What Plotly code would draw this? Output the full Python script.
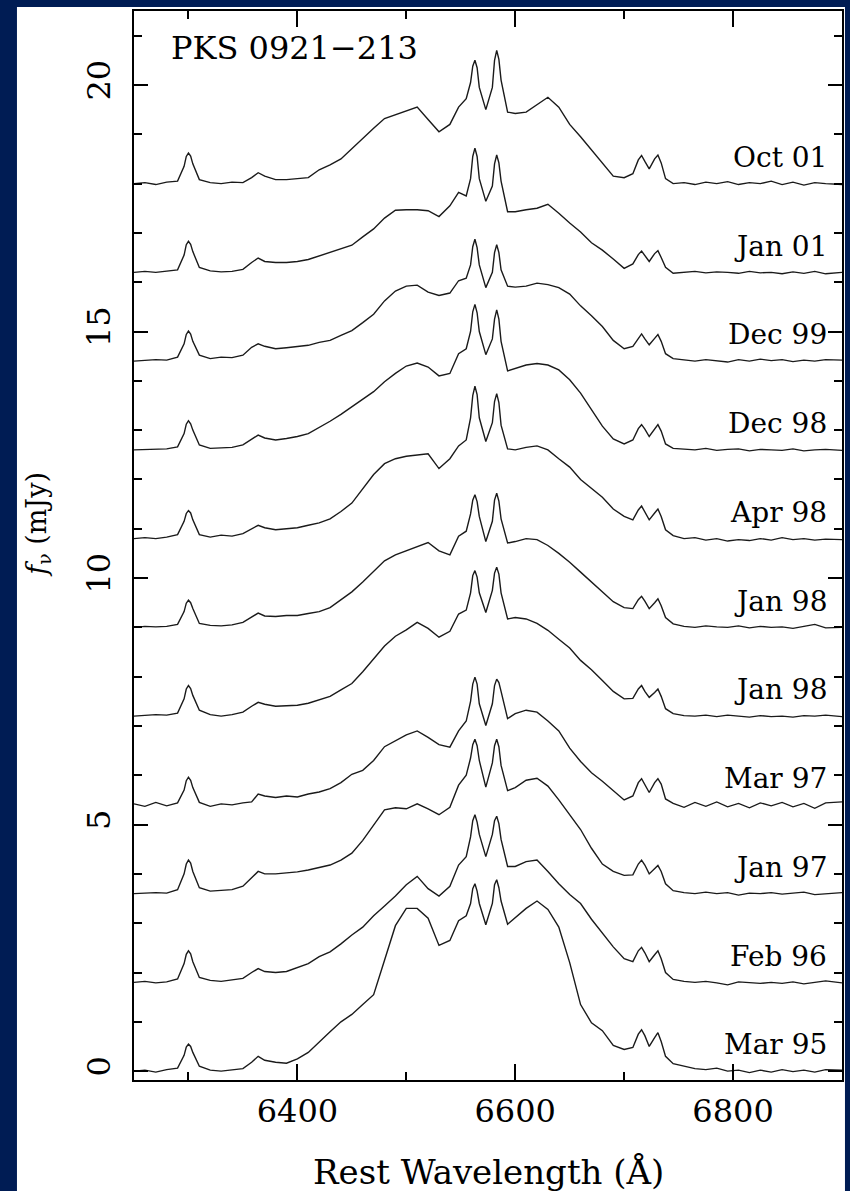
import plotly.graph_objects as go

wavelength = [
    6250, 6260, 6270, 6280, 6290, 6296, 6298, 6300, 6302, 6304,
    6310, 6320, 6330, 6340, 6350, 6358, 6364, 6370, 6380, 6390,
    6400, 6410, 6420, 6430, 6440, 6450, 6460, 6470, 6480, 6490,
    6500, 6510, 6520, 6530, 6540, 6548, 6555, 6559, 6561, 6563,
    6565, 6567, 6573, 6579, 6581, 6583, 6585, 6587, 6593, 6600,
    6610, 6620, 6630, 6640, 6650, 6660, 6670, 6680, 6690, 6700,
    6708, 6713, 6716, 6719, 6723, 6728, 6731, 6734, 6738, 6745,
    6755, 6765, 6775, 6785, 6795, 6805, 6815, 6825, 6835, 6845,
    6855, 6865, 6875, 6885, 6900,
]

epochs = ["Oct 01", "Jan 01", "Dec 99", "Dec 98", "Apr 98", "Jan 98",
          "Jan 98", "Mar 97", "Jan 97", "Feb 96", "Mar 95"]
offsets = [18.0, 16.2, 14.4, 12.6, 10.8, 9.0, 7.2, 5.4, 3.6, 1.8, 0.0]

oct01 = [
    0.00, 0.02, -0.02, 0.03, 0.05, 0.35, 0.55, 0.62, 0.56, 0.40,
    0.08, 0.02, 0.00, 0.03, 0.02, 0.12, 0.22, 0.15, 0.08, 0.08,
    0.10, 0.12, 0.28, 0.38, 0.50, 0.70, 0.90, 1.12, 1.32, 1.40,
    1.48, 1.55, 1.30, 1.05, 1.20, 1.55, 1.72, 2.05, 2.38, 2.50,
    2.35, 1.95, 1.50, 1.95, 2.50, 2.70, 2.52, 2.10, 1.45, 1.42,
    1.45, 1.60, 1.75, 1.55, 1.20, 0.95, 0.68, 0.40, 0.15, 0.12,
    0.20, 0.48, 0.57, 0.45, 0.30, 0.50, 0.58, 0.42, 0.10, 0.00,
    0.02, -0.02, 0.03, 0.00, 0.04, -0.02, 0.02, 0.00, 0.05, -0.02,
    0.03, -0.03, 0.02, 0.00, -0.02,
]
jan01 = [
    0.00, 0.02, 0.00, 0.02, 0.05, 0.35, 0.56, 0.63, 0.57, 0.42,
    0.10, 0.03, 0.01, 0.02, 0.06, 0.20, 0.29, 0.22, 0.20, 0.20,
    0.22, 0.26, 0.33, 0.40, 0.47, 0.55, 0.72, 0.88, 1.10, 1.26,
    1.27, 1.27, 1.25, 1.13, 1.35, 1.62, 1.55, 1.90, 2.35, 2.52,
    2.35, 1.90, 1.44, 1.75, 2.20, 2.38, 2.22, 1.85, 1.23, 1.23,
    1.27, 1.30, 1.38, 1.20, 1.00, 0.82, 0.60, 0.45, 0.27, 0.08,
    0.17, 0.36, 0.43, 0.33, 0.22, 0.38, 0.44, 0.30, 0.10, -0.02,
    0.00, 0.02, -0.01, 0.01, 0.00, -0.02, 0.02, -0.01, 0.00, -0.03,
    0.01, -0.02, 0.02, -0.03, 0.00,
]
dec99 = [
    0.00, 0.02, 0.03, 0.02, 0.08, 0.35, 0.54, 0.61, 0.55, 0.40,
    0.12, 0.05, 0.08, 0.07, 0.12, 0.28, 0.35, 0.30, 0.25, 0.27,
    0.29, 0.32, 0.38, 0.42, 0.52, 0.62, 0.78, 0.95, 1.22, 1.42,
    1.52, 1.54, 1.40, 1.33, 1.38, 1.63, 1.68, 1.95, 2.32, 2.47,
    2.30, 1.95, 1.49, 1.80, 2.20, 2.36, 2.20, 1.85, 1.52, 1.50,
    1.52, 1.58, 1.55, 1.49, 1.36, 1.12, 0.92, 0.70, 0.42, 0.25,
    0.30, 0.47, 0.55, 0.45, 0.33, 0.46, 0.54, 0.40, 0.15, 0.05,
    0.02, 0.00, 0.03, 0.01, -0.02, 0.03, 0.00, 0.04, 0.01, 0.03,
    -0.01, 0.02, 0.00, 0.03, 0.02,
]
dec98 = [
    0.00, 0.01, 0.02, 0.02, 0.06, 0.33, 0.52, 0.59, 0.53, 0.40,
    0.10, 0.03, 0.04, 0.05, 0.10, 0.22, 0.30, 0.24, 0.20, 0.23,
    0.27, 0.33, 0.45, 0.58, 0.72, 0.87, 1.02, 1.18, 1.38, 1.55,
    1.70, 1.76, 1.68, 1.50, 1.55, 1.95, 2.05, 2.40, 2.80, 2.95,
    2.78, 2.40, 1.93, 2.25, 2.65, 2.84, 2.65, 2.20, 1.60, 1.65,
    1.72, 1.75, 1.72, 1.62, 1.42, 1.15, 0.82, 0.48, 0.22, 0.12,
    0.20, 0.43, 0.51, 0.42, 0.27, 0.43, 0.51, 0.38, 0.12, 0.03,
    0.02, 0.00, 0.03, -0.01, 0.01, 0.02, -0.02, 0.01, 0.00, -0.01,
    0.02, -0.02, 0.00, 0.01, -0.01,
]
apr98 = [
    0.00, 0.02, 0.00, 0.03, 0.08, 0.35, 0.51, 0.57, 0.52, 0.38,
    0.08, 0.03, 0.07, 0.05, 0.10, 0.20, 0.27, 0.22, 0.18, 0.20,
    0.22, 0.27, 0.32, 0.40, 0.55, 0.72, 1.02, 1.30, 1.52, 1.62,
    1.67, 1.70, 1.72, 1.42, 1.62, 1.88, 2.00, 2.45, 2.90, 3.09,
    2.92, 2.45, 1.97, 2.35, 2.78, 2.94, 2.76, 2.30, 1.82, 1.80,
    1.85, 1.88, 1.80, 1.62, 1.45, 1.20, 1.02, 0.84, 0.60, 0.45,
    0.38, 0.58, 0.66, 0.55, 0.38, 0.52, 0.60, 0.45, 0.18, 0.06,
    0.00, 0.02, -0.03, 0.00, -0.05, -0.02, -0.04, 0.00, -0.03, 0.02,
    -0.02, 0.00, -0.03, -0.01, -0.02,
]
jan98a = [
    0.00, 0.02, 0.01, 0.02, 0.06, 0.32, 0.49, 0.55, 0.50, 0.38,
    0.08, 0.04, 0.03, 0.05, 0.10, 0.20, 0.29, 0.23, 0.22, 0.24,
    0.24, 0.28, 0.32, 0.40, 0.56, 0.72, 0.92, 1.14, 1.35, 1.47,
    1.55, 1.64, 1.72, 1.55, 1.47, 1.85, 1.95, 2.30, 2.58, 2.69,
    2.55, 2.25, 1.74, 2.15, 2.58, 2.72, 2.56, 2.20, 1.71, 1.74,
    1.80, 1.78, 1.66, 1.50, 1.32, 1.12, 0.92, 0.72, 0.52, 0.40,
    0.38, 0.56, 0.63, 0.53, 0.38, 0.50, 0.58, 0.44, 0.20, 0.07,
    0.02, 0.00, 0.03, 0.01, 0.00, 0.03, -0.01, 0.02, 0.00, 0.01,
    -0.02, 0.02, 0.06, -0.01, 0.00,
]
jan98b = [
    0.00, 0.01, 0.03, 0.02, 0.06, 0.35, 0.55, 0.62, 0.56, 0.42,
    0.12, 0.03, 0.00, 0.03, 0.08, 0.20, 0.28, 0.24, 0.20, 0.21,
    0.22, 0.26, 0.33, 0.40, 0.53, 0.66, 0.90, 1.15, 1.42, 1.62,
    1.75, 1.90, 1.78, 1.60, 1.72, 2.07, 2.15, 2.50, 2.85, 2.95,
    2.82, 2.50, 2.10, 2.55, 2.90, 3.02, 2.88, 2.50, 1.97, 2.00,
    1.97, 1.88, 1.74, 1.56, 1.38, 1.13, 0.94, 0.72, 0.50, 0.35,
    0.36, 0.55, 0.62, 0.50, 0.38, 0.48, 0.55, 0.40, 0.15, 0.05,
    0.01, 0.00, 0.02, -0.01, 0.02, 0.00, -0.02, 0.01, -0.01, 0.00,
    -0.02, 0.01, 0.00, 0.02, -0.01,
]
mar97 = [
    0.02, -0.03, 0.05, -0.02, 0.04, 0.30, 0.49, 0.56, 0.50, 0.35,
    0.05, -0.03, 0.02, 0.00, 0.04, 0.06, 0.22, 0.18, 0.15, 0.18,
    0.16, 0.22, 0.26, 0.33, 0.45, 0.62, 0.70, 0.90, 1.18, 1.30,
    1.42, 1.50, 1.37, 1.22, 1.17, 1.50, 1.70, 2.10, 2.45, 2.59,
    2.45, 2.05, 1.61, 2.05, 2.42, 2.55, 2.48, 2.30, 1.75, 1.85,
    1.92, 1.88, 1.70, 1.50, 1.15, 0.88, 0.65, 0.48, 0.28, 0.10,
    0.18, 0.45, 0.53, 0.40, 0.25, 0.45, 0.53, 0.42, 0.12, 0.03,
    -0.05, 0.05, -0.03, 0.06, -0.04, 0.03, -0.06, 0.04, -0.02, 0.05,
    -0.04, 0.03, -0.07, 0.04, 0.06,
]
jan97 = [
    0.00, 0.01, 0.02, 0.01, 0.08, 0.40, 0.60, 0.68, 0.62, 0.45,
    0.12, 0.05, 0.06, 0.08, 0.15, 0.33, 0.45, 0.40, 0.40, 0.42,
    0.44, 0.48, 0.53, 0.58, 0.68, 0.82, 1.08, 1.40, 1.70, 1.74,
    1.72, 1.82, 1.72, 1.60, 1.75, 2.20, 2.40, 2.75, 3.02, 3.13,
    3.00, 2.70, 2.16, 2.65, 3.00, 3.13, 2.98, 2.60, 2.09, 2.15,
    2.30, 2.34, 2.18, 1.90, 1.60, 1.30, 0.92, 0.60, 0.45, 0.37,
    0.38, 0.60, 0.68, 0.58, 0.40, 0.50, 0.57, 0.45, 0.20, 0.06,
    0.02, 0.00, 0.03, 0.00, 0.02, -0.03, 0.01, 0.00, 0.02, -0.01,
    0.01, 0.03, -0.02, 0.00, 0.02,
]
feb96 = [
    0.00, 0.02, -0.01, 0.01, 0.07, 0.38, 0.57, 0.64, 0.58, 0.42,
    0.10, 0.04, 0.02, 0.05, 0.08, 0.20, 0.28, 0.22, 0.20, 0.22,
    0.30, 0.38, 0.52, 0.62, 0.78, 0.96, 1.12, 1.35, 1.55, 1.75,
    1.98, 2.15, 1.90, 1.75, 1.95, 2.38, 2.55, 2.95, 3.28, 3.40,
    3.25, 3.00, 2.55, 3.00, 3.28, 3.37, 3.22, 2.90, 2.35, 2.35,
    2.45, 2.48, 2.25, 2.00, 1.78, 1.60, 1.28, 1.00, 0.72, 0.48,
    0.42, 0.64, 0.71, 0.60, 0.42, 0.56, 0.64, 0.48, 0.20, 0.06,
    0.02, 0.00, 0.02, -0.01, -0.05, 0.01, 0.00, -0.02, 0.00, -0.02,
    0.01, -0.03, 0.00, 0.03, -0.01,
]
mar95 = [
    0.00, 0.02, -0.02, 0.03, 0.06, 0.32, 0.49, 0.55, 0.50, 0.38,
    0.10, 0.02, 0.00, 0.02, 0.05, 0.18, 0.30, 0.22, 0.18, 0.16,
    0.25, 0.38, 0.60, 0.80, 1.00, 1.15, 1.35, 1.55, 2.25, 2.95,
    3.30, 3.30, 3.10, 2.55, 2.65, 3.05, 3.15, 3.40, 3.70, 3.80,
    3.65, 3.40, 2.97, 3.40, 3.78, 3.88, 3.72, 3.45, 2.98, 3.12,
    3.30, 3.45, 3.28, 2.92, 2.20, 1.35, 0.98, 0.82, 0.52, 0.44,
    0.48, 0.75, 0.84, 0.72, 0.50, 0.68, 0.78, 0.60, 0.30, 0.15,
    0.10, 0.05, 0.03, 0.06, 0.00, 0.02, -0.03, 0.02, -0.02, 0.03,
    -0.01, 0.02, -0.02, 0.03, 0.02,
]

profiles = [oct01, jan01, dec99, dec98, apr98, jan98a, jan98b,
            mar97, jan97, feb96, mar95]

x_ticks = [6400, 6600, 6800]
y_ticks = [0, 5, 10, 15, 20]

NAVY = "#001c54"
SERIF = "DejaVu Serif, Liberation Serif, serif"

fig = go.Figure()
for name, off, prof in zip(epochs, offsets, profiles):
    fig.add_trace(go.Scatter(
        x=wavelength, y=[off + v for v in prof], mode="lines",
        line=dict(color="#1a1a1a", width=1.4), name=name,
        showlegend=False, hoverinfo="skip"))

annotations = []
for name, off in zip(epochs, offsets):
    annotations.append(dict(
        x=6888, y=off + 0.53, xref="x", yref="y", text=name,
        showarrow=False, xanchor="right", yanchor="middle",
        font=dict(family=SERIF, size=28, color="black")))

annotations.append(dict(
    x=6282, y=20.75, xref="x", yref="y", text="PKS 0921\u2212213",
    showarrow=False, xanchor="left", yanchor="middle",
    font=dict(family=SERIF, size=32, color="black")))

annotations.append(dict(
    x=0.5, y=-0.086, xref="paper", yref="paper",
    text="Rest Wavelength (\u00c5)", showarrow=False,
    xanchor="center", yanchor="middle",
    font=dict(family=SERIF, size=34, color="black")))

annotations.append(dict(
    x=-0.136, y=0.52, xref="paper", yref="paper",
    text="<i>f</i><sub>\u03bd</sub> (mJy)",
    showarrow=False, textangle=-90,
    xanchor="center", yanchor="middle",
    font=dict(family=SERIF, size=27, color="black")))

shapes = [dict(type="rect", xref="paper", yref="paper",
               x0=-0.1653, x1=1.0042, y0=-0.2, y1=1.0038,
               fillcolor="white", line=dict(width=0), layer="below")]

fig.update_layout(
    width=850, height=1191,
    margin=dict(l=134, r=8, t=11, b=111),
    paper_bgcolor=NAVY, plot_bgcolor="white",
    annotations=annotations, shapes=shapes,
    showlegend=False,
)

fig.update_xaxes(
    range=[6250, 6900], tickvals=x_ticks, ticktext=[str(v) for v in x_ticks],
    ticks="inside", ticklen=16, tickwidth=1.5, tickcolor="black",
    minor=dict(dtick=100, tick0=6300, ticks="inside", ticklen=8,
               tickwidth=1.5, tickcolor="black"),
    showline=True, linewidth=2, linecolor="black", mirror="ticks",
    showgrid=False, zeroline=False, automargin=False,
    tickfont=dict(family=SERIF, size=32, color="black"),
    ticklabelstandoff=2,
)
fig.update_yaxes(
    range=[-0.18, 21.5], tickvals=y_ticks, ticktext=[str(v) for v in y_ticks],
    ticks="inside", ticklen=14, tickwidth=1.5, tickcolor="black",
    minor=dict(dtick=1, tick0=0, ticks="inside", ticklen=8,
               tickwidth=1.5, tickcolor="black"),
    showline=True, linewidth=2, linecolor="black", mirror="ticks",
    showgrid=False, zeroline=False, automargin=False,
    tickangle=-90,
    tickfont=dict(family=SERIF, size=32, color="black"),
    ticklabelstandoff=9,
)

fig.write_html("out.html")
